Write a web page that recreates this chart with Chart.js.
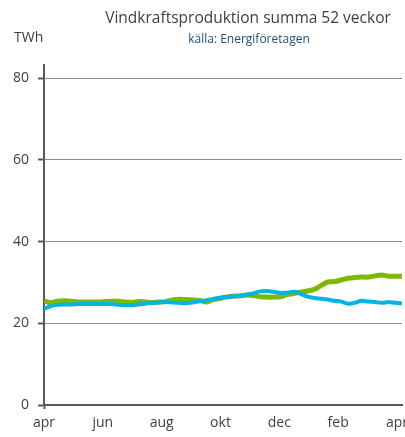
<!DOCTYPE html>
<html><head><meta charset="utf-8">
<script src="https://cdn.jsdelivr.net/npm/chart.js@4/dist/chart.umd.min.js"></script>
<style>html,body{margin:0;padding:0;background:#fff;}#wrap{width:405px;height:437px;}</style>
</head><body><div id="wrap"><canvas id="c" width="405" height="437"></canvas></div>
<script>
const titleText = "Vindkraftsproduktion summa 52 veckor";
const subtitleText = "källa: Energiföretagen";
const unitText = "TWh";
const monthLabels = ["apr","jun","aug","okt","dec","feb","apr"];
const monthTicks = [0,2,4,6,8,10,12];
const yTicks = [0,20,40,60,80];
const greenSeries = [25.5,25.0,25.4,25.5,25.4,25.2,25.2,25.2,25.2,25.3,25.4,25.4,25.2,25.1,25.3,25.2,25.1,25.2,25.3,25.7,25.9,25.8,25.7,25.6,25.2,25.8,26.1,26.4,26.6,26.7,26.9,26.8,26.5,26.4,26.4,26.5,27.0,27.3,27.6,27.9,28.3,29.2,30.1,30.2,30.6,31.0,31.2,31.3,31.3,31.6,31.8,31.5,31.5,31.5];
const blueSeries = [23.5,24.2,24.5,24.6,24.6,24.7,24.7,24.7,24.7,24.7,24.7,24.5,24.4,24.4,24.6,24.8,25.0,25.1,25.2,25.1,25.0,24.9,25.1,25.4,25.6,25.9,26.2,26.4,26.6,26.7,27.0,27.3,27.8,27.9,27.7,27.4,27.5,27.7,27.2,26.5,26.2,26.0,25.8,25.5,25.3,24.8,25.0,25.5,25.3,25.2,25.0,25.2,25.0,24.9];
const weekStep = 12.17/53; // months per week point

const toPts = arr => arr.map((v,i)=>({x:i*weekStep, y:v}));

const textPlugin = {
  id:'texts',
  afterDraw(chart){
    const ctx = chart.ctx;
    ctx.save();
    ctx.textBaseline='middle';
    ctx.textAlign='center';
    ctx.fillStyle='#404040';
    ctx.font='15.5px "Open Sans"';
    ctx.fillText(titleText, 248, 19);
    ctx.fillStyle='#1f4e79';
    ctx.font='12px "Open Sans"';
    ctx.fillText(subtitleText, 249, 40);
    ctx.fillStyle='#404040';
    ctx.font='14px "Open Sans"';
    ctx.textAlign='left';
    ctx.fillText(unitText, 14, 38);
    ctx.restore();
  }
};

new Chart(document.getElementById('c'), {
  type:'line',
  data:{datasets:[
    {label:'blue', data:toPts(blueSeries), borderColor:'#00b4e6', borderWidth:4, pointRadius:0, tension:0.3, fill:false},
    {label:'green', data:toPts(greenSeries), borderColor:'#7cb900', borderWidth:5, pointRadius:0, tension:0.3, fill:false}
  ]},
  options:{
    responsive:false, animation:false,
    layout:{padding:{top:65,right:3,left:0,bottom:0}},
    plugins:{legend:{display:false}, tooltip:{enabled:false}},
    scales:{
      x:{type:'linear', min:0, max:12.17,
        afterBuildTicks(s){ s.ticks = monthTicks.map(v=>({value:v})); },
        afterFit(s){ s.height = 32; s.paddingLeft=0; s.paddingRight=0; },
        ticks:{autoSkip:false, maxRotation:0, padding:6, color:'#404040', font:{family:'Open Sans', size:14},
          callback:(v,i)=>monthLabels[i]},
        grid:{drawOnChartArea:false, drawTicks:true, tickLength:4,
          tickColor:(c)=> c.index===0 ? '#595959' : 'rgba(0,0,0,0)', tickWidth:2},
        border:{display:true, color:'#595959', width:2}
      },
      y:{min:0, max:83.2,
        afterBuildTicks(s){ s.ticks = yTicks.map(v=>({value:v})); },
        afterFit(s){ s.width = 44; },
        ticks:{padding:9, color:'#404040', font:{family:'Open Sans', size:14}},
        grid:{color:'#8c8c8c', lineWidth:1, tickLength:6, tickColor:'#595959', tickWidth:2},
        border:{display:true, color:'#595959', width:2}
      }
    }
  },
  plugins:[textPlugin]
});
</script></body></html>
